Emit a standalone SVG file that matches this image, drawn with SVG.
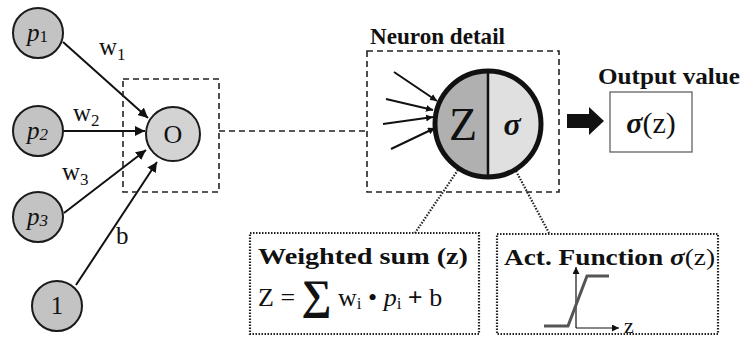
<svg xmlns="http://www.w3.org/2000/svg" width="742" height="340" viewBox="0 0 742 340">
<defs>
<marker id="ah" viewBox="0 0 10 10" refX="10" refY="5" markerWidth="7" markerHeight="7" markerUnits="userSpaceOnUse" orient="auto"><path d="M0,0 L10,5 L0,10 z" fill="#111"/></marker>
<marker id="ah2" viewBox="0 0 10 10" refX="10" refY="5" markerWidth="10" markerHeight="10" orient="auto" markerUnits="userSpaceOnUse"><path d="M0,0 L10,5 L0,10 z" fill="#111"/></marker>
</defs>
<style>
.in{fill:#c3c3c3;stroke:#1a1a1a;stroke-width:2}
.ser{font-family:"Liberation Serif",serif;fill:#111}
.bold{font-family:"Liberation Serif",serif;font-weight:bold;fill:#111}
.edge{stroke:#111;stroke-width:2;fill:none}
.dash{stroke:#222;stroke-width:1.6;fill:none;stroke-dasharray:6,4}
.dot{stroke:#222;stroke-width:2.2;fill:none;stroke-dasharray:1.5,1.5}
</style>
<rect width="742" height="340" fill="#fff"/>
<g id="connectors">
<line class="edge" x1="63" y1="42" x2="148" y2="118" marker-end="url(#ah2)"/>
<line class="edge" x1="64" y1="131" x2="145" y2="131" marker-end="url(#ah2)"/>
<line class="edge" x1="64" y1="213" x2="146" y2="150" marker-end="url(#ah2)"/>
<line class="edge" x1="76" y1="285" x2="157" y2="162" marker-end="url(#ah2)"/>
<line class="dash" x1="219" y1="131" x2="367" y2="131"/>
<line class="dot" x1="458" y1="170" x2="415" y2="233"/>
<line class="dot" x1="516" y1="171" x2="549" y2="233"/>
<path d="M567,114 L589,114 L589,107 L604,121 L589,135 L589,128 L567,128 Z" fill="#111"/>
</g>
<text class="ser" x="99" y="55" font-size="25">w<tspan font-size="17" dy="5">1</tspan></text>
<text class="ser" x="73" y="121" font-size="25">w<tspan font-size="17" dy="5">2</tspan></text>
<text class="ser" x="62" y="180" font-size="25">w<tspan font-size="17" dy="5">3</tspan></text>
<text class="ser" x="116" y="244" font-size="25">b</text>
<g id="p1"><circle class="in" cx="38" cy="33" r="25"/><text class="ser" x="27" y="41" font-size="25" font-style="italic">p<tspan font-size="17" font-style="normal" dy="1">1</tspan></text></g>
<g id="p2"><circle class="in" cx="38" cy="131" r="25"/><text class="ser" x="27" y="139" font-size="25" font-style="italic">p<tspan font-size="17" dy="1">2</tspan></text></g>
<g id="p3"><circle class="in" cx="38" cy="217" r="25"/><text class="ser" x="27" y="225" font-size="25" font-style="italic">p<tspan font-size="17" dy="1">3</tspan></text></g>
<g id="one"><circle class="in" cx="57" cy="306" r="25"/><text class="ser" x="57" y="314" font-size="25" text-anchor="middle">1</text></g>
<g id="hidden">
<rect class="dash" x="123" y="79" width="96" height="113"/>
<circle cx="173" cy="134" r="27" fill="#d3d3d3" stroke="#1a1a1a" stroke-width="2"/>
<text class="ser" x="173" y="143" font-size="26" text-anchor="middle">O</text>
</g>
<g id="neuron-detail">
<text class="bold" x="370" y="44" font-size="23" textLength="135" lengthAdjust="spacingAndGlyphs">Neuron detail</text>
<rect class="dash" x="367" y="51" width="192" height="141"/>
<line class="edge" x1="394" y1="72" x2="437" y2="101" marker-end="url(#ah)"/>
<line class="edge" x1="386" y1="99" x2="433" y2="110" marker-end="url(#ah)"/>
<line class="edge" x1="383" y1="124" x2="433" y2="117" marker-end="url(#ah)"/>
<line class="edge" x1="391" y1="149" x2="435" y2="128" marker-end="url(#ah)"/>
<path d="M488,71 A53,53 0 0 0 488,177 Z" fill="#b0b0b0"/>
<path d="M488,71 A53,53 0 0 1 488,177 Z" fill="#e0e0e0"/>
<circle cx="488" cy="124" r="53" fill="none" stroke="#111" stroke-width="5"/>
<line x1="488" y1="71" x2="488" y2="177" stroke="#111" stroke-width="2.5"/>
<text class="ser" x="463" y="140" font-size="46" text-anchor="middle">Z</text>
<text class="bold" x="512" y="135" font-size="32" font-style="italic" text-anchor="middle">σ</text>
</g>
<g id="output">
<text class="bold" x="598" y="84" font-size="23" textLength="142" lengthAdjust="spacingAndGlyphs">Output value</text>
<rect x="610" y="92" width="82" height="60" fill="#fff" stroke="#555" stroke-width="1.2"/>
<text class="ser" x="651" y="133" font-size="30" text-anchor="middle"><tspan font-weight="bold" font-style="italic">σ</tspan>(z)</text>
</g>
<g id="weighted-sum">
<rect class="dot" x="250" y="233" width="229" height="101"/>
<text class="bold" x="258" y="264" font-size="24" textLength="210" lengthAdjust="spacingAndGlyphs">Weighted sum (z)</text>
<text class="ser" x="258" y="306" font-size="26">Z = <tspan font-size="42" font-weight="bold" dy="3">∑</tspan><tspan dy="-3"> w</tspan><tspan font-size="17" dy="3">i</tspan><tspan dy="-3"> • </tspan><tspan font-style="italic">p</tspan><tspan font-size="17" dy="3">i</tspan><tspan dy="-3" font-weight="bold"> + </tspan><tspan>b</tspan></text>
</g>
<g id="act-function">
<rect class="dot" x="497" y="234" width="221" height="100"/>
<text class="bold" x="504" y="265" font-size="24" textLength="211" lengthAdjust="spacingAndGlyphs">Act. Function <tspan font-style="italic">σ</tspan><tspan font-weight="normal">(z)</tspan></text>
<line x1="576" y1="328" x2="576" y2="267" stroke="#111" stroke-width="1.2" marker-end="url(#ah)"/>
<line x1="576" y1="328" x2="619" y2="328" stroke="#111" stroke-width="1.2" marker-end="url(#ah)"/>
<polyline points="544,326 568,326 587,276 609,276" fill="none" stroke="#555" stroke-width="3"/>
<text class="ser" x="624" y="333" font-size="22">z</text>
</g>
</svg>
